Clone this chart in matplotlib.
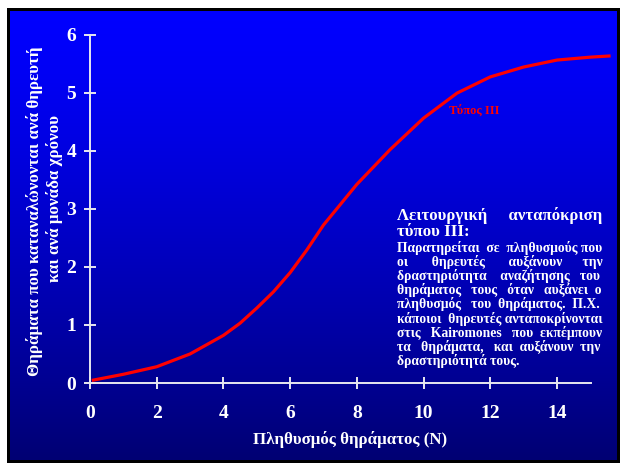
import numpy as np
import matplotlib
matplotlib.use("Agg")
import matplotlib.pyplot as plt

plt.rcParams['font.family'] = ['Liberation Serif', 'DejaVu Serif']
plt.rcParams['font.weight'] = 'bold'

# curve
N = [0.1, 1, 2, 3, 4, 4.5, 5, 5.5, 6, 6.5, 7, 7.5, 8, 8.5, 9, 10, 11, 12, 13, 14, 15, 15.56]
prey = [0.05, 0.15, 0.28, 0.50, 0.82, 1.03, 1.29, 1.57, 1.90, 2.29, 2.72, 3.07, 3.42, 3.72,
        4.02, 4.56, 4.99, 5.27, 5.44, 5.56, 5.61, 5.63]
xticks = [0, 2, 4, 6, 8, 10, 12, 14]
yticks = [0, 1, 2, 3, 4, 5, 6]

title_lines = ["Λειτουργική ανταπόκριση", "τύπου ΙΙΙ:"]
body_lines = ["Παρατηρείται σε πληθυσμούς που",
              "οι θηρευτές αυξάνουν την",
              "δραστηριότητα αναζήτησης του",
              "θηράματος τους όταν αυξάνει ο",
              "πληθυσμός του θηράματος. Π.Χ.",
              "κάποιοι θηρευτές ανταποκρίνονται",
              "στις Kairomones  που εκπέμπουν",
              "τα θηράματα, και αυξάνουν την",
              "δραστηριότητά τους."]

W, H = 620, 463
fig = plt.figure(figsize=(W / 100, H / 100), dpi=100, facecolor='white')
renderer = fig.canvas.get_renderer()

def fx(px):
    return px / W

def fy(py):
    return 1 - py / H

def width_of(s, size):
    t = fig.text(0, 0, s, fontsize=size, fontweight='bold')
    w = t.get_window_extent(renderer).width
    t.remove()
    return w

def fit_size(s, target, size=10.0):
    return size * target / width_of(s, size)

# black frame, then the blue gradient inside it
frame = fig.add_axes([fx(7), fy(463), fx(613), 455 / H], zorder=-2)
frame.set_facecolor('black')
frame.set_xticks([])
frame.set_yticks([])
for s in frame.spines.values():
    s.set_visible(False)

bg = fig.add_axes([fx(10), fy(460), fx(607), 449 / H], zorder=-1)
t = np.linspace(0, 1, 256)
cols = np.zeros((256, 1, 3))
cols[:, 0, 2] = (255 - 140 * t ** 1.3) / 255
bg.imshow(cols, aspect='auto', extent=[0, 1, 0, 1], origin='upper', interpolation='bilinear')
bg.axis('off')

ax = fig.add_axes([fx(90), fy(383), fx(609 - 90), (383 - 34.5) / H], zorder=1)
ax.patch.set_alpha(0)
ax.plot(N, prey, color='#FF0000', lw=2.3, clip_on=False)
ax.set_xlim(0, 15.56)
ax.set_ylim(0, 6)
for s in ['top', 'right']:
    ax.spines[s].set_visible(False)
for s in ['left', 'bottom']:
    ax.spines[s].set_color('#E8E8F0')
    ax.spines[s].set_linewidth(1.4)
ax.spines['bottom'].set_bounds(0, 15.03)
ax.set_xticks(xticks)
ax.set_yticks(yticks)
ax.tick_params(colors='#E8E8F0', direction='inout', length=8, width=1.4,
               labelcolor='white', labelsize=14)
ax.tick_params(axis='x', pad=12)
ax.tick_params(axis='y', pad=6)
for lab in ax.get_xticklabels() + ax.get_yticklabels():
    lab.set_fontweight('bold')

xlab = "Πληθυσμός θηράματος (Ν)"
fig.text(fx(350), fy(440), xlab, color='white', fontsize=fit_size(xlab, 194),
         fontweight='bold', ha='center', va='center')
ylab1 = "Θηράματα που καταναλώνονται ανά θηρευτή"
ylab2 = "και ανά μονάδα χρόνου"
ysize = fit_size(ylab1, 331)
fig.text(fx(35), fy(211), ylab1, color='white', fontsize=ysize, fontweight='bold',
         ha='center', va='center', rotation=90)
fig.text(fx(55), fy(198), ylab2, color='white', fontsize=ysize, fontweight='bold',
         ha='center', va='center', rotation=90)

ax.text(10.76, 4.68, "Τύπος ΙΙΙ", color='#FF0000', fontsize=9, fontweight='bold',
        ha='left', va='center')

# justified text block: one text per line, spaces spread to fill the width
left, right = 397, 601

def put_line(line, base_y, size, justify):
    words = line.split()
    if justify and len(words) > 1:
        sp = width_of("a a", size) - width_of("aa", size)
        free = (right - left) - sum(width_of(w, size) for w in words)
        n = max(len(words) - 1, int(round(free / sp)))
        gaps = len(words) - 1
        counts = [n // gaps + (1 if i < n % gaps else 0) for i in range(gaps)]
        text = words[0]
        for c, w in zip(counts, words[1:]):
            text += " " * c + w
    else:
        text = " ".join(words)
    fig.text(fx(left), fy(base_y), text, color='white', fontsize=size,
             fontweight='bold', ha='left', va='baseline')

tsize = fit_size("Λειτουργική", 91)
bsize = fit_size("κάποιοι θηρευτές ανταποκρίνονται", 202)
put_line(title_lines[0], 220, tsize, True)
put_line(title_lines[1], 236, tsize, False)
for i, line in enumerate(body_lines):
    put_line(line, 252 + 14.1 * i, bsize, i < len(body_lines) - 1)

fig.savefig("out.png", dpi=100, facecolor='white')
